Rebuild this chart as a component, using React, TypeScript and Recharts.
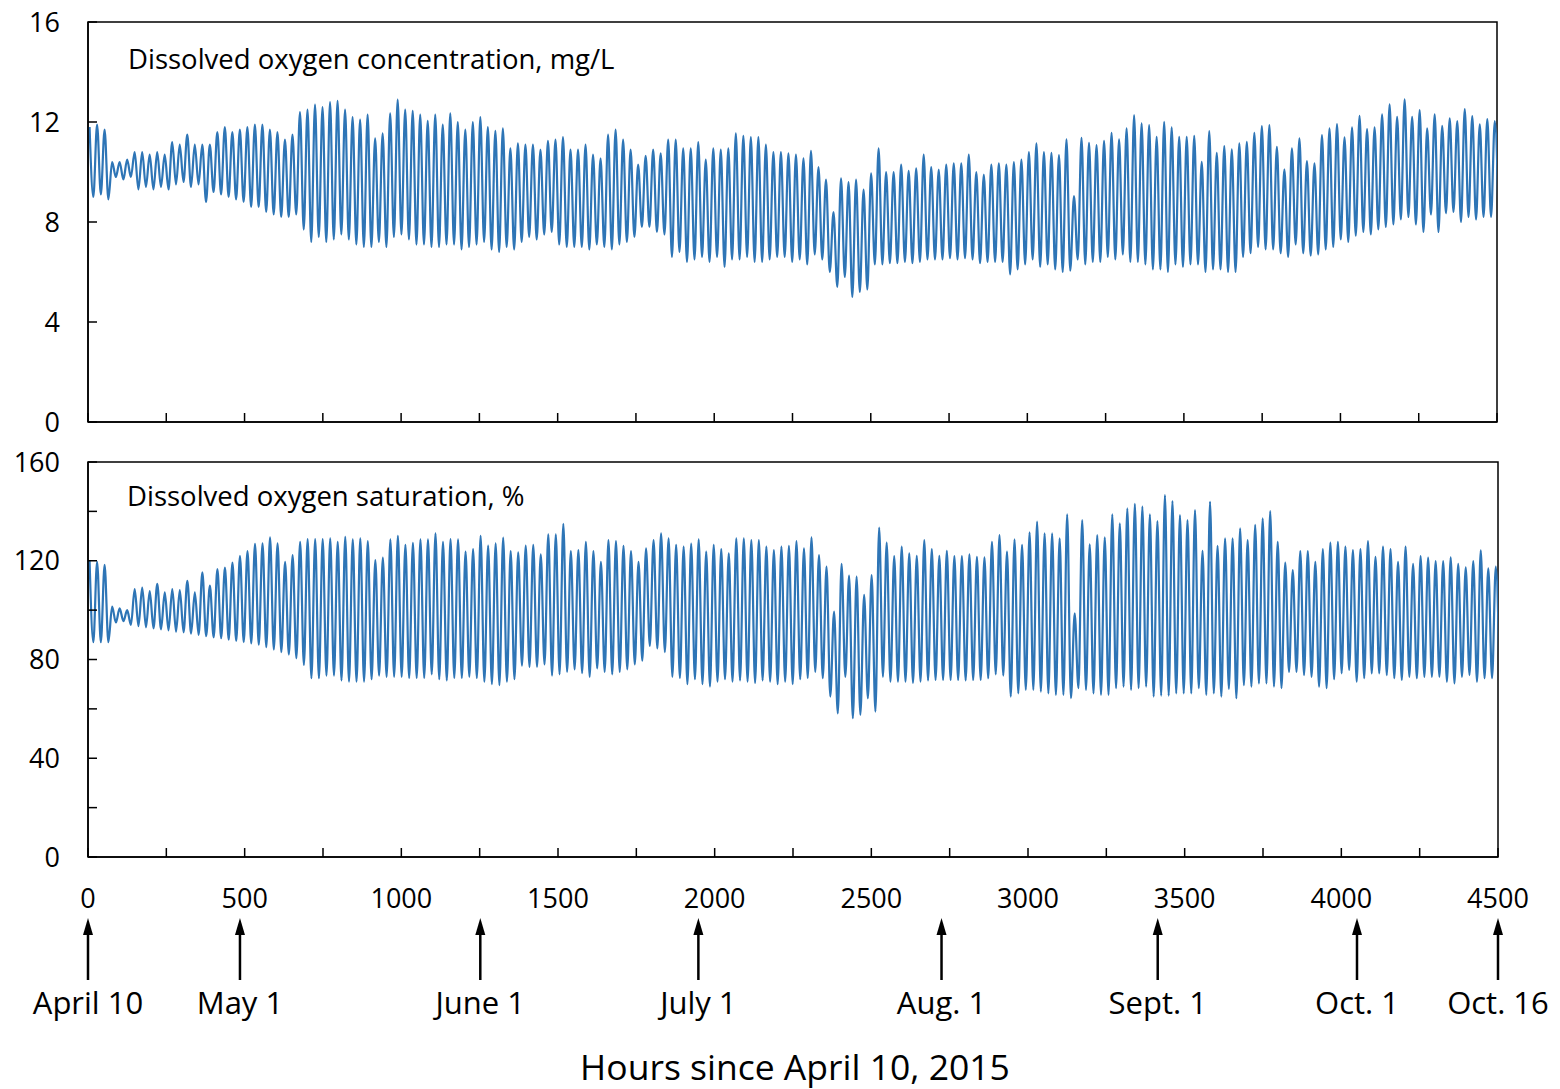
import { LineChart, Line, XAxis, YAxis, ReferenceArea } from "recharts";

// daily maximum / minimum, one value per day from April 10
const concPeaks = [
  11.8, 11.9, 11.7, 10.4, 10.4, 10.5, 10.8, 10.8, 10.7, 10.8, 10.7, 11.2, 11.1, 11.5, 11.1, 11.1, 11.1, 11.6, 11.8, 11.6,
  11.7, 11.8, 11.9, 11.9, 11.7, 11.6, 11.3, 11.5, 12.4, 12.5, 12.7, 12.6, 12.8,
  12.85, 12.5, 12.2, 12.1, 12.3, 11.35, 11.55, 12.35, 12.9, 12.5, 12.45, 12.3, 12.05, 12.3, 11.9, 12.35, 12.0, 11.7,
  12.0, 12.2, 11.8, 11.65, 11.75, 10.95, 11.15, 11.1, 11.1, 10.9, 11.25, 11.3, 11.4, 10.9,
  10.9, 11.1, 10.7, 10.55, 11.5, 11.7, 11.3, 10.9, 10.3, 10.65, 10.9, 10.75, 11.3, 11.3, 10.95, 10.95, 11.2, 10.5,
  10.95, 10.9, 10.95, 11.55, 11.45, 11.4, 11.4, 11.1, 10.8, 10.8, 10.75, 10.7, 10.55,
  10.85, 10.2, 9.7, 8.4, 9.75, 9.6, 9.7, 9.3, 9.95, 10.95, 10.0, 10.0, 10.3, 10.05, 10.15, 10.7, 10.2, 10.1, 10.3,
  10.35, 10.35, 10.7, 10.0, 9.9, 10.3, 10.35, 10.3, 10.4, 10.5, 10.8, 11.15, 10.8,
  10.77, 10.68, 11.31, 9.04, 11.37, 11.17, 11.08, 11.25, 11.57, 11.31, 11.75, 12.28, 11.95, 11.88, 11.41, 12.01,
  11.79, 11.41, 11.41, 11.45, 10.41, 11.64, 10.77, 11.04, 10.91, 11.15, 11.21, 11.57, 11.84, 11.88, 11.01, 10.11,
  10.95, 11.35, 10.44, 10.35, 11.48, 11.75, 11.92, 11.39, 11.79, 12.25, 11.72, 11.79, 12.31, 12.71, 12.21, 12.91,
  12.21, 12.48, 11.75, 12.31, 11.85, 12.15, 12.04, 12.52, 12.24, 11.91, 12.12, 12.04,
];

const concTroughs = [
  9.0, 9.1, 8.9, 9.8, 9.7, 9.8, 9.3, 9.4, 9.3, 9.4, 9.3, 9.5, 9.6, 9.4, 9.5, 8.8, 9.2, 9.1, 9.0, 8.9,
  8.8, 8.6, 8.6, 8.4, 8.3, 8.2, 8.2, 8.3, 7.7, 7.2, 7.4, 7.2, 7.3,
  7.5, 7.3, 7.1, 7.0, 7.0, 7.2, 7.0, 7.4, 7.5, 7.3, 7.1, 7.1, 7.0, 7.0, 7.1, 7.1, 6.9, 7.0,
  7.1, 7.2, 6.9, 6.8, 7.0, 6.9, 7.2, 7.4, 7.3, 7.5, 7.6, 7.1, 7.0, 7.0,
  7.0, 6.9, 7.1, 7.0, 6.9, 7.1, 7.2, 7.4, 7.8, 7.8, 7.6, 7.5, 6.6, 6.8, 6.4, 6.5, 6.6, 6.4,
  6.6, 6.2, 6.5, 6.5, 6.6, 6.4, 6.4, 6.5, 6.6, 6.6, 6.4, 6.5, 6.3,
  6.7, 6.5, 6.0, 5.4, 5.8, 5.0, 5.2, 5.3, 6.3, 6.3, 6.35, 6.35, 6.4, 6.35, 6.4, 6.5, 6.5, 6.5, 6.55,
  6.5, 6.55, 6.5, 6.35, 6.4, 6.4, 6.4, 5.9, 6.1, 6.3, 6.5, 6.2, 6.3,
  6.1, 6.0, 6.05, 6.5, 6.3, 6.4, 6.4, 6.6, 6.5, 6.7, 6.4, 6.4, 6.3, 6.1, 6.1, 6.0,
  6.3, 6.2, 6.3, 6.3, 6.0, 6.1, 6.1, 6.0, 6.0, 6.6, 6.75, 7.0, 6.9, 6.9, 6.75, 6.6,
  7.1, 6.75, 6.65, 6.7, 6.9, 7.0, 7.3, 7.2, 7.45, 7.6, 7.5, 7.7, 7.8, 7.9, 8.1, 8.2,
  7.9, 7.6, 8.3, 7.6, 8.35, 8.4, 8.0, 8.2, 8.1, 8.2, 8.2, 8.2,
];

const satPeaks = [
  120, 119.6, 118.3, 101.4, 100.7, 100, 108.5, 109.1, 107.7, 110.6, 107.2, 108.5, 108.1, 111.9, 107.2, 115.3, 109.9,
  116.6, 117.2, 119.3, 122, 123.9, 126.8, 127, 129.5, 127, 119.6, 122.3, 127.7, 128.8, 128.8, 128.8, 129.1,
  127.7, 129.7, 128.7, 129.1, 128.0, 120.3, 121.3, 128.7, 130.1, 126.4, 127.3, 128.7, 128.7, 131.1, 127.7, 128.8,
  128.7, 123.7, 124.7, 130.1, 126.1, 127.0, 129.4, 123.9, 123.4, 126.1, 126.4, 122.6, 130.7, 130.7, 134.9,
  123.9, 124.3, 127.7, 123.9, 119.6, 128.4, 128.0, 126.0, 123.9, 119.6, 125.0, 128.4, 131.1, 129.1, 126.4, 125.7,
  126.9, 128.7, 123.7, 126.4, 124.7, 123.0, 129.1, 129.1, 128.4, 128.4, 125.7, 124.3, 125.7, 126.0, 128.0, 125.0,
  129.5, 122.3, 117.6, 99.4, 118.7, 114.0, 113.6, 106.2, 114.2, 133.4, 127.4, 121.9, 125.7, 123.0, 122.0, 128.4,
  124.7, 122.0, 124.0, 121.9, 121.9, 122.6, 121.6, 121.4, 127.7, 130.4, 123.7, 128.7, 126.4, 131.5, 135.9, 131.1,
  131.1, 129.1, 138.8, 98.7, 136.5, 126.6, 130.4, 129.5, 138.8, 135.1, 141.2, 143.0, 141.9, 138.8, 136.1, 146.6,
  144.2, 138.5, 136.5, 140.5, 124.0, 143.9, 126.0, 129.1, 129.1, 133.1, 128.4, 134.5, 137.2, 140.1, 127.7, 119.3,
  116.2, 123.9, 123.9, 119.6, 124.7, 127.4, 127.7, 125.7, 124.3, 124.7, 128.0, 121.6, 125.7, 124.7, 119.6, 125.7,
  118.7, 121.9, 121.3, 119.9, 119.9, 121.4, 118.7, 117.3, 119.9, 124.2, 116.9, 117.6,
];

const satTroughs = [
  87, 87, 87, 95, 95.5, 94, 93.5, 93, 92.6, 92.2, 91.8, 91.3, 91, 90.5, 90, 89.5, 89, 88.6, 88, 87.5,
  87, 86.5, 86, 85, 84, 83, 82, 80.5, 77.8, 72.4, 72.4, 73.5, 73.5,
  71.5, 71, 71, 71, 72, 73.5, 73, 73, 73, 72.5, 72.5, 72.5, 74, 72, 71.5, 72.5, 72.5, 73, 72.5, 71,
  70, 69.6, 71, 72, 77.5, 77, 77, 78, 73.5, 74, 75,
  76, 74.5, 73, 76.4, 75, 74, 75, 76, 78, 79.5, 85.5, 84.5, 83, 73, 72.5, 70, 72, 70, 69, 71,
  72, 71, 71.5, 71, 70.5, 71.5, 71, 70, 71, 70, 72, 72.5,
  75, 72.4, 65, 58.2, 73, 56.2, 57.6, 64.3, 58.9, 73, 71, 71, 71, 70.5, 71, 71.5, 71.7, 71.7, 71.7, 71.7,
  71.5, 71.7, 71.7, 72.4, 74, 73.5, 65, 66.3, 67.7, 67.7, 67, 66.3,
  65.7, 65.7, 64.3, 68.4, 67.7, 66.3, 65.7, 65.7, 68.4, 69, 67.7, 68.4, 69, 65, 65.4, 65.4,
  66.3, 66.3, 66.3, 68.4, 65.7, 66.3, 65, 68.1, 64.3, 69.6, 69, 70.3, 70.3, 69, 68.4, 75,
  75, 73.7, 73, 69, 68.4, 72, 74.4, 75.8, 71, 72.4, 74.4, 74.4, 73.7, 72.4, 71.7, 73,
  72.4, 73, 73, 73, 71, 70.3, 73, 73.7, 71, 72.4, 72.4, 73,
];

const hourTicks = [0, 250, 500, 750, 1000, 1250, 1500, 1750, 2000, 2250, 2500, 2750, 3000, 3250, 3500, 3750, 4000, 4250, 4500];
const concTicks = [0, 4, 8, 12, 16];
const satTicks = [0, 20, 40, 60, 80, 100, 120, 140, 160];

const dateLabels = ["April 10", "May 1", "June 1", "July 1", "Aug. 1", "Sept. 1", "Oct. 1", "Oct. 16"];
const dateHours = [0, 485, 1252, 1948, 2724, 3414, 4050, 4500];

// hour of day where the daily max and min sit
const PEAK_HOUR = 5;
const TROUGH_HOUR = 17;

function buildSeries(peaks: number[], troughs: number[]) {
  const pts: { h: number; v: number }[] = [];
  peaks.forEach((p, d) => {
    pts.push({ h: d * 24 + PEAK_HOUR, v: p });
    pts.push({ h: d * 24 + TROUGH_HOUR, v: troughs[d] });
  });
  return pts;
}

const concData = buildSeries(concPeaks, concTroughs);
const satData = buildSeries(satPeaks, satTroughs);

const BLUE = "#2E75B6";
const axisLine = { stroke: "#000", strokeWidth: 1.5 };

function DateTick(props: any) {
  const { x, y, payload } = props;
  const label = dateLabels[dateHours.indexOf(payload.value)];
  return (
    <g>
      <line x1={x} x2={x} y1={y + 24} y2={y + 73} stroke="#000" strokeWidth={2.5} />
      <path d={`M${x},${y + 11} L${x - 5},${y + 28} L${x + 5},${y + 28} Z`} fill="#000" />
      <text x={x} y={y + 107} textAnchor="middle" fontSize={31} fill="#000">
        {label}
      </text>
    </g>
  );
}

export default function App() {
  return (
    <div
      style={{
        position: "absolute",
        left: 0,
        top: 0,
        width: 1560,
        height: 1089,
        background: "#fff",
        fontFamily: "'Open Sans', sans-serif",
        color: "#000",
      }}
    >
      <div style={{ position: "absolute", left: 0, top: 0 }}>
        <LineChart width={1560} height={440} data={concData} margin={{ top: 22, right: 63, bottom: 8, left: 28 }}>
          <XAxis
            dataKey="h"
            type="number"
            domain={[0, 4500]}
            ticks={hourTicks}
            interval={0}
            allowDataOverflow
            height={10}
            tickSize={-9}
            tickFormatter={() => ""}
            axisLine={axisLine}
            tickLine={axisLine}
          />
          <YAxis
            type="number"
            domain={[0, 16]}
            ticks={concTicks}
            interval={0}
            allowDataOverflow
            width={60}
            tickSize={-9}
            tickMargin={37}
            tick={{ fontSize: 27, fill: "#000" }}
            axisLine={axisLine}
            tickLine={axisLine}
          />
          <ReferenceArea x1={0} x2={4500} y1={0} y2={16} fill="none" stroke="#000" strokeWidth={1.5} ifOverflow="visible" />
          <Line dataKey="v" type="monotone" stroke={BLUE} strokeWidth={2.2} dot={false} isAnimationActive={false} />
        </LineChart>
      </div>

      <div style={{ position: "absolute", left: 0, top: 440 }}>
        <LineChart width={1560} height={649} data={satData} margin={{ top: 22, right: 62, bottom: 62, left: 28 }}>
          <XAxis
            dataKey="h"
            type="number"
            domain={[0, 4500]}
            ticks={hourTicks}
            interval={0}
            allowDataOverflow
            height={50}
            tickSize={-9}
            tickMargin={41}
            tickFormatter={(v: number) => (v % 500 === 0 ? String(v) : "")}
            tick={{ fontSize: 27, fill: "#000" }}
            axisLine={axisLine}
            tickLine={axisLine}
          />
          <XAxis
            xAxisId="dates"
            dataKey="h"
            type="number"
            domain={[0, 4500]}
            ticks={dateHours}
            interval={0}
            allowDataOverflow
            height={120}
            tickSize={0}
            tickMargin={0}
            axisLine={false}
            tickLine={false}
            tick={<DateTick />}
          />
          <YAxis
            type="number"
            domain={[0, 160]}
            ticks={satTicks}
            interval={0}
            allowDataOverflow
            width={60}
            tickSize={-9}
            tickMargin={37}
            tickFormatter={(v: number) => (v % 40 === 0 ? String(v) : "")}
            tick={{ fontSize: 27, fill: "#000" }}
            axisLine={axisLine}
            tickLine={axisLine}
          />
          <ReferenceArea x1={0} x2={4500} y1={0} y2={160} fill="none" stroke="#000" strokeWidth={1.5} ifOverflow="visible" />
          <Line dataKey="v" type="monotone" stroke={BLUE} strokeWidth={2.2} dot={false} isAnimationActive={false} />
          <Line
            xAxisId="dates"
            dataKey="v"
            stroke="none"
            strokeWidth={0}
            dot={false}
            activeDot={false}
            legendType="none"
            isAnimationActive={false}
          />
        </LineChart>
      </div>

      <div style={{ position: "absolute", left: 128, top: 45, fontSize: 27.5, lineHeight: 1, whiteSpace: "nowrap" }}>
        Dissolved oxygen concentration, mg/L
      </div>
      <div style={{ position: "absolute", left: 127, top: 482, fontSize: 27.5, lineHeight: 1, whiteSpace: "nowrap" }}>
        Dissolved oxygen saturation, %
      </div>
      <div
        style={{
          position: "absolute",
          left: 0,
          width: 1590,
          top: 1049,
          fontSize: 35.5,
          lineHeight: 1,
          textAlign: "center",
          whiteSpace: "nowrap",
        }}
      >
        Hours since April 10, 2015
      </div>
    </div>
  );
}
